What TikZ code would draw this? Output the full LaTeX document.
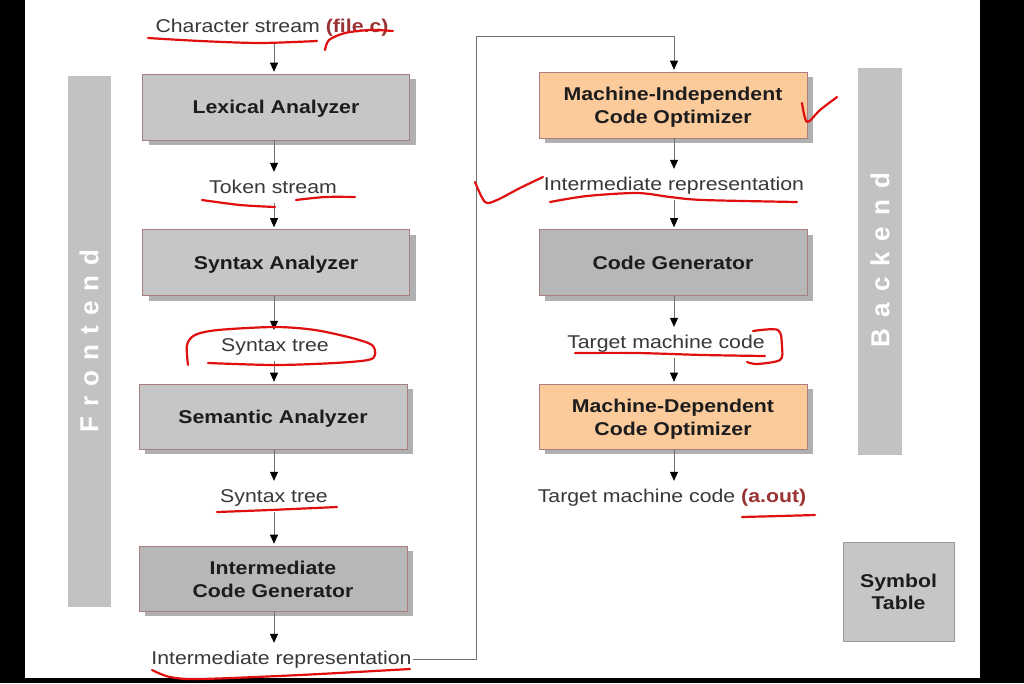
\documentclass[tikz,border=0pt]{standalone}
\usepackage{fontspec}
\setmainfont[FakeStretch=1.15]{Liberation Sans}
\newfontfamily\barfont{Liberation Sans}
\usetikzlibrary{shadows,arrows.meta}
\definecolor{lightbox}{HTML}{C6C6C6}
\definecolor{darkbox}{HTML}{B7B7B7}
\definecolor{orangebox}{HTML}{FBCB9C}
\definecolor{boxedge}{HTML}{A87E7E}
\definecolor{shadowgray}{HTML}{B0B0B0}
\definecolor{bargray}{HTML}{C2C2C2}
\definecolor{textgray}{HTML}{383838}
\definecolor{textdark}{HTML}{1C1C1C}
\definecolor{linegray}{HTML}{707070}
\definecolor{darkred}{HTML}{9A3434}
\definecolor{marker}{HTML}{E01010}
\tikzset{
  stagebox/.style={draw=boxedge, line width=0.6pt, fill=lightbox,
    minimum width=267pt, minimum height=66pt, inner sep=0pt, align=center,
    font=\fontsize{18.5}{23}\selectfont\bfseries, text=textdark,
    text height=13pt, text depth=0pt,
    drop shadow={shadow xshift=6pt, shadow yshift=-5pt, fill=shadowgray, opacity=1}},
  twoline/.style={text height=37pt, text depth=0pt},
  darkstage/.style={stagebox, fill=darkbox},
  optbox/.style={stagebox, fill=orangebox},
  lbl/.style={font=\fontsize{18.5}{22}\selectfont, text=textgray,
    text height=13pt, text depth=4pt, inner xsep=1pt, inner ysep=6pt, anchor=base},
  arr/.style={draw=linegray, line width=0.7pt, shorten >=2pt,
    -{Triangle[length=9pt,width=8pt,color=black]}},
  conn/.style={draw=linegray, line width=0.7pt},
  bar/.style={fill=bargray, draw=none},
  bartext/.style={text=white, font=\barfont\bfseries\fontsize{26}{26}\selectfont, rotate=90},
  redmark/.style={draw=marker, line width=2.2pt, line cap=round, line join=round}
}
\begin{document}
\begin{tikzpicture}[x=1pt,y=-1pt]
\useasboundingbox (0,0) rectangle (1024,683);
% screen frame
\fill[white] (0,0) rectangle (1024,683);
\fill[black] (0,0) rectangle (25,683);
\fill[black] (980,0) rectangle (1024,683);
\fill[black] (0,678) rectangle (1024,683);

% side bars
\fill[bar] (68,76) rectangle (111,607);
\node[bartext] (front) at (89,341) {F\kern10pt r\kern10pt o\kern10pt n\kern10pt t\kern10pt e\kern10pt n\kern10pt d};
\fill[bar] (858,68) rectangle (902,455);
\node[bartext] (back) at (880,260) {B\kern11pt a\kern11pt c\kern11pt k\kern11pt e\kern11pt n\kern11pt d};

% arrow columns
\coordinate (LX) at (274,0);
\coordinate (RX) at (674,0);

% left column
\node[lbl] (cs) at (272,32) {Character stream \textcolor{darkred}{\bfseries(file.c)}};
\node[stagebox] (lex) at (276,107) {Lexical Analyzer};
\node[lbl] (tok) at (273,193) {Token stream};
\node[stagebox] (syn) at (276,262.5) {Syntax Analyzer};
\node[lbl] (st1) at (275,351) {Syntax tree};
\node[stagebox, minimum width=268pt, minimum height=65pt] (sem) at (273,416.5) {Semantic Analyzer};
\node[lbl] (st2) at (274,502) {Syntax tree};
\node[darkstage, twoline, minimum width=268pt, minimum height=65pt] (icg) at (273,578.5) {Intermediate\\Code Generator};
\node[lbl] (ir1) at (281.5,664) {Intermediate representation};

\draw[arr] (cs.south -| LX) -- (lex.north -| LX);
\draw[arr] (lex.south -| LX) -- (tok.north -| LX);
\draw[arr] (tok.south -| LX) -- (syn.north -| LX);
\draw[arr] (syn.south -| LX) -- (st1.north -| LX);
\draw[arr] (st1.south -| LX) -- (sem.north -| LX);
\draw[arr] (sem.south -| LX) -- (st2.north -| LX);
\draw[arr] (st2.south -| LX) -- (icg.north -| LX);
\draw[arr] (icg.south -| LX) -- (ir1.north -| LX);

% right column
\node[optbox, twoline, minimum width=268pt] (mi) at (673,105) {Machine-Independent\\Code Optimizer};
\node[lbl] (ir2) at (674,190) {Intermediate representation};
\node[darkstage, minimum width=268pt] (cg) at (673,262.5) {Code Generator};
\node[lbl] (tmc) at (666,348) {Target machine code};
\node[optbox, twoline, minimum width=268pt, minimum height=65pt] (md) at (673,416.5) {Machine-Dependent\\Code Optimizer};
\node[lbl] (out) at (672,502) {Target machine code \textcolor{darkred}{\bfseries(a.out)}};

\coordinate (c1) at (476,36);
\coordinate (c2) at (674,36);
\draw[conn] (ir1.east) -| (c1) -- (c2);
\draw[arr] (c2) -- (mi.north -| RX);
\draw[arr] (mi.south -| RX) -- (ir2.north -| RX);
\draw[arr] (ir2.south -| RX) -- (cg.north -| RX);
\draw[arr] (cg.south -| RX) -- (tmc.north -| RX);
\draw[arr] (tmc.south -| RX) -- (md.north -| RX);
\draw[arr] (md.south -| RX) -- (out.north -| RX);

% symbol table
\node[draw=gray!80, line width=0.6pt, fill=lightbox, minimum width=111pt, minimum height=99pt,
  inner sep=0pt, align=center, font=\fontsize{18.5}{22}\selectfont\bfseries, text=textdark,
  text height=35pt, text depth=0pt] (sym) at (898.5,591.5) {Symbol\\Table};

% hand-drawn red marks
\draw[redmark] plot[smooth] coordinates {(148,38) (200,41) (260,43) (317,41)};
\draw[redmark] plot[smooth] coordinates {(325,50) (329,40) (345,33) (370,30) (393,31)};
\draw[redmark] plot[smooth] coordinates {(202,200) (240,205) (275,207)};
\draw[redmark] plot[smooth] coordinates {(296,200) (325,197) (355,197)};
\draw[redmark] plot[smooth] coordinates {(188,365) (187,345) (195,335) (218,330) (275,327) (315,330) (352,338) (372,345) (375,355) (368,360) (335,363) (275,365) (208,363)};
\draw[redmark] plot[smooth] coordinates {(217,512) (270,510) (337,507)};
\draw[redmark] plot[smooth] coordinates {(152,670) (170,677) (200,679) (300,675) (410,669)};
\draw[redmark] plot[smooth] coordinates {(802,103) (807,122) (820,110) (837,97)};
\draw[redmark] plot[smooth] coordinates {(475,182) (485,202) (497,200) (520,188) (543,177)};
\draw[redmark] plot[smooth] coordinates {(550,202) (587,196) (637,193) (670,197) (703,200) (797,202)};
\draw[redmark] plot[smooth] coordinates {(575,353) (637,353) (703,355) (765,356)};
\draw[redmark] plot[smooth] coordinates {(753,331) (778,330) (782,347) (780,360) (757,364) (747,362)};
\draw[redmark] plot[smooth] coordinates {(742,517) (780,516) (815,515)};
\end{tikzpicture}
\end{document}
